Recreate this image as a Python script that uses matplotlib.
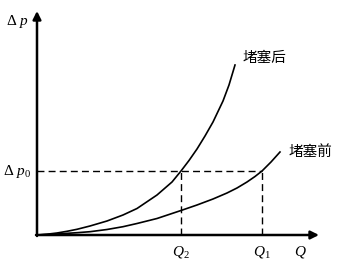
import matplotlib
matplotlib.use("Agg")
import matplotlib.pyplot as plt

plt.rcParams['font.family'] = ['Noto Sans CJK SC', 'DejaVu Sans']
plt.rcParams['mathtext.fontset'] = 'custom'
plt.rcParams['mathtext.rm'] = 'Liberation Serif'
plt.rcParams['mathtext.it'] = 'Liberation Serif:italic'

# curve points (Q, delta p)
q_after = [0, 10, 20, 30, 40, 53, 70, 86, 100, 120, 135, 144, 152, 160, 168, 176, 186, 192, 198]
p_after = [0, 0.8, 2, 3.7, 5.7, 9, 14, 20, 26.5, 40, 53, 64, 74.5, 86, 99, 113, 134, 150, 170]
q_before = [0, 20, 40, 53, 70, 86, 100, 120, 144, 160, 176, 190, 200, 210, 218, 225, 234, 243]
p_before = [0, 1, 2.3, 3.3, 5.5, 8.3, 11.5, 16.5, 24.5, 30, 36, 42, 47, 53, 58.5, 64, 73, 83]

q1 = 225
q2 = 144
p0 = 64

fig = plt.figure(figsize=(3.37, 2.66), dpi=100)
ax = fig.add_axes([0, 0, 1, 1])
ax.set_xlim(-37, 300)
ax.set_ylim(-31, 235)
ax.axis('off')

# axes with arrows
arr = dict(arrowstyle='-|>', lw=1.8, color='k', mutation_scale=12, shrinkA=0, shrinkB=0)
ax.annotate('', xy=(0, 224), xytext=(0, -1), arrowprops=arr)
ax.annotate('', xy=(282, 0), xytext=(-1, 0), arrowprops=arr)

ax.plot(q_after, p_after, color='k', lw=1.2)
ax.plot(q_before, p_before, color='k', lw=1.2)

ax.plot([0, q1], [p0, p0], 'k--', lw=1.0, dashes=(5, 3))
ax.plot([q2, q2], [0, p0], 'k--', lw=1.0, dashes=(5, 3))
ax.plot([q1, q1], [0, p0], 'k--', lw=1.0, dashes=(5, 3))

ax.text(-20, 213, r'$\Delta\ p$', fontsize=11, ha='center', va='center')
ax.text(-20, p0, r'$\Delta\ p_{0}$', fontsize=11, ha='center', va='center')
ax.text(q2, -16, r'$Q_2$', fontsize=11, ha='center', va='center')
ax.text(q1, -16, r'$Q_1$', fontsize=11, ha='center', va='center')
ax.text(263, -16, r'$Q$', fontsize=11, ha='center', va='center')

ax.text(206, 177, '堵塞后', fontsize=10.5, ha='left', va='center')
ax.text(252, 83, '堵塞前', fontsize=10.5, ha='left', va='center')

fig.savefig('out.png', dpi=100)
